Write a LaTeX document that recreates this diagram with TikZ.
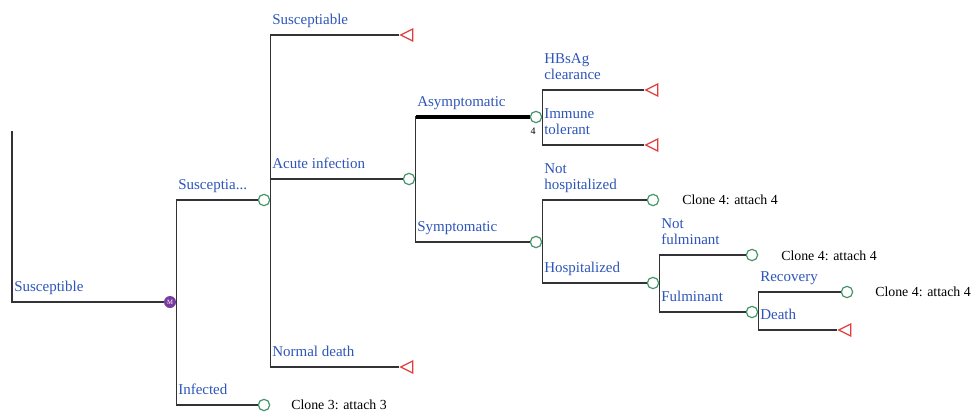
\documentclass[tikz,border=0pt]{standalone}
\usepackage{fontspec}
\setmainfont{Liberation Serif}
\usetikzlibrary{shapes.geometric}
\definecolor{lblue}{RGB}{45,85,185}
\definecolor{cgreen}{RGB}{70,150,105}
\definecolor{tred}{RGB}{225,60,60}
\definecolor{lgray}{RGB}{50,50,55}
\definecolor{mpurple}{RGB}{120,60,160}
\begin{document}
\begin{tikzpicture}[x=0.75pt,y=-0.75pt,
 chance/.style={circle,draw=cgreen,line width=0.9pt,fill=white,minimum size=8.5pt,inner sep=0},
 term/.style={isosceles triangle,shape border rotate=180,draw=tred,line width=0.9pt,fill=white,minimum height=9pt,minimum width=9pt,inner sep=0,isosceles triangle stretches},
 markov/.style={circle,fill=mpurple,minimum size=9pt,inner sep=0,text=white,font=\fontsize{5}{5}\selectfont},
 branch/.style={draw=lgray,line width=1.1pt},
 lbl/.style={text=lblue,font=\fontsize{11.25}{12}\selectfont,anchor=south west,text depth=0pt,inner sep=0,align=left},
 clone/.style={font=\fontsize{10.4}{12}\selectfont,anchor=west,inner sep=0}
]
\useasboundingbox (0,0) rectangle (971,411);
% nodes
\coordinate (root) at (12,131);
\node[markov] (M) at (170,302) {M};
\node[chance] (c1) at (264,200) {};
\node[chance] (c2) at (264,405) {};
\node[term] (t1) at (409,35) {};
\node[chance] (c3) at (409,179) {};
\node[term] (t2) at (409,367) {};
\node[chance] (c4) at (536,117) {};
\node[chance] (c5) at (536,242) {};
\node[term] (t3) at (654,90) {};
\node[term] (t4) at (654,145) {};
\node[chance] (c6) at (653,200) {};
\node[chance] (c7) at (653,283) {};
\node[chance] (c8) at (752,255) {};
\node[chance] (c9) at (752,312) {};
\node[chance] (c10) at (847,292) {};
\node[term] (t5) at (847,330) {};
% connectors
\draw[branch] (root) |- (M.west);
\draw[branch] (M.east) |- (c1.west);
\draw[branch] (M.east) |- (c2.west);
\draw[branch] (c1.east) |- (t1.west);
\draw[branch] (c1.east) |- (c3.west);
\draw[branch] (c1.east) |- (t2.west);
\draw[branch] (c3.east) |- (c4.west);
\draw[line width=2.3pt,draw=black] (c3.east |- c4.west) ++(1,0) -- (c4.west);
\draw[branch] (c3.east) |- (c5.west);
\draw[branch] (c4.east) |- (t3.west);
\draw[branch] (c4.east) |- (t4.west);
\draw[branch] (c5.east) |- (c6.west);
\draw[branch] (c5.east) |- (c7.west);
\draw[branch] (c7.east) |- (c8.west);
\draw[branch] (c7.east) |- (c9.west);
\draw[branch] (c9.east) |- (c10.west);
\draw[branch] (c9.east) |- (t5.west);
% labels
\node[lbl] (l0) at (14,292) {Susceptible};
\node[lbl] (l1) at (178,190) {Susceptia...};
\node[lbl] (l2) at (178,395) {Infected};
\node[lbl] (l3) at (272,25) {Susceptiable};
\node[lbl] (l4) at (272,169) {Acute infection};
\node[lbl] (l5) at (272,357) {Normal death};
\node[lbl] (l6) at (417,107) {Asymptomatic};
\node[lbl] (l7) at (417,232) {Symptomatic};
\node[lbl] (l8) at (544,80) {HBsAg\\clearance};
\node[lbl] (l9) at (544,135) {Immune\\tolerant};
\node[lbl] (l10) at (544,190) {Not\\hospitalized};
\node[lbl] (l11) at (544,273) {Hospitalized};
\node[lbl] (l12) at (661,245) {Not\\fulminant};
\node[lbl] (l13) at (661,302) {Fulminant};
\node[lbl] (l14) at (760,282) {Recovery};
\node[lbl] (l15) at (760,320) {Death};
\node[font=\fontsize{7.5}{8}\selectfont,inner sep=0] (four) at (533,131) {4};
% clone texts
\node[clone] (k1) at (291,405) {Clone 3: attach 3};
\node[clone] (k2) at (682,200) {Clone 4: attach 4};
\node[clone] (k3) at (781,256) {Clone 4: attach 4};
\node[clone] (k4) at (875,292) {Clone 4: attach 4};
\end{tikzpicture}
\end{document}
